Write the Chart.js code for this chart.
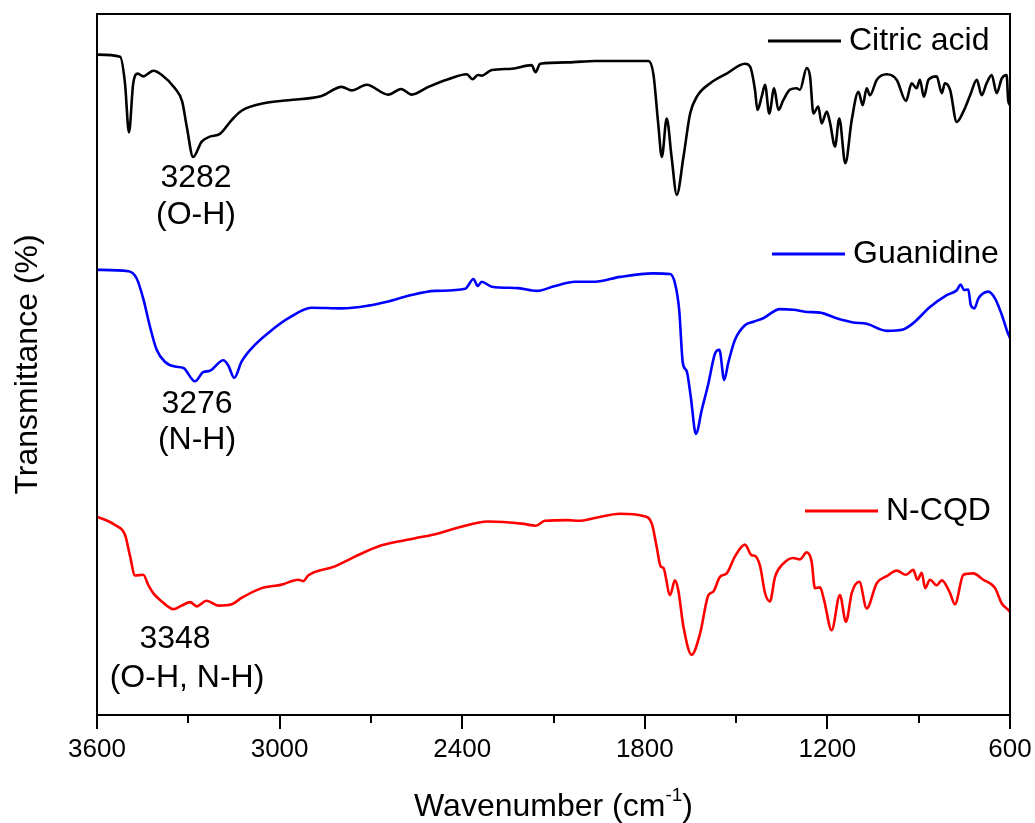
<!DOCTYPE html>
<html>
<head>
<meta charset="utf-8">
<script src="https://cdn.jsdelivr.net/npm/chart.js@4"></script>
<style>
  html, body { margin: 0; padding: 0; background: #fff; }
  #wrap { width: 1035px; height: 823px; }
</style>
</head>
<body>
<div id="wrap"><canvas id="ftirChart" width="1035" height="823"></canvas></div>
<script>
// --- FTIR spectra (wavenumber cm-1, transmittance a.u.) ---
const citricWn = [3600,3524,3508,3495,3481,3466,3448,3415,3387,3344,3320,3305,3284,3256,3229,3196,3157,3125,3048,2971,2862,2796,2763,2714,2643,2601,2566,2511,2446,2385,2366,2349,2336,2303,2237,2172,2159,2144,2051,1964,1881,1788,1772,1756,1744,1728,1712,1695,1673,1651,1629,1586,1531,1471,1454,1438,1430,1416,1405,1391,1375,1361,1345,1323,1301,1290,1268,1257,1246,1230,1219,1202,1191,1175,1161,1141,1120,1098,1084,1071,1060,1038,1005,972,942,923,907,896,883,868,841,824,814,797,775,753,731,709,693,677,660,644,627,611,606,600];
const citricT = [94.2,93.9,90.1,83.1,90.1,91.5,91.1,91.9,91.3,89.4,87.5,83.9,79.6,81.8,82.5,82.9,84.9,86.2,87.3,87.7,88.3,89.6,89.1,89.9,88.5,89.3,88.5,89.6,90.7,91.4,90.7,91.3,91.2,92.0,92.2,92.7,91.7,92.9,93.1,93.3,93.3,93.3,91.5,84.4,79.6,85.1,79.6,74.2,79.6,85.8,88.2,90.1,91.5,92.9,92.5,89.2,86.3,88.2,89.9,85.8,89.4,86.3,87.7,89.2,89.4,89.2,92.3,91.1,85.8,86.8,84.4,86.1,84.4,81.1,85.1,78.7,84.9,88.9,87.0,89.4,88.4,90.6,91.4,90.6,87.6,90.1,89.4,90.6,88.2,90.6,91.1,88.7,90.1,89.2,84.6,86.1,88.4,90.6,88.4,90.1,91.3,88.7,90.8,91.3,87.7,87.0];

const guanWn = [3600,3497,3470,3448,3426,3404,3377,3344,3316,3278,3251,3229,3185,3169,3149,3125,3092,3037,2971,2895,2796,2709,2643,2577,2489,2390,2363,2349,2336,2303,2216,2155,2095,2029,1964,1881,1772,1717,1701,1687,1675,1662,1649,1632,1613,1591,1569,1555,1539,1526,1504,1471,1443,1411,1356,1312,1268,1224,1170,1115,1071,1005,951,918,863,808,775,762,751,737,729,717,704,671,649,627,609,600];
const guanT = [63.5,63.3,62.3,59.4,55.4,52.1,50.4,49.7,49.5,47.6,48.9,49.1,50.6,49.9,48.1,50.4,52.3,54.5,56.6,58.1,58.0,58.4,59.0,59.8,60.5,60.8,62.2,61.2,61.8,61.1,60.9,60.5,61.2,61.8,61.8,62.5,63.0,62.9,61.6,57.8,50.2,49.0,45.4,40.1,43.5,47.3,51.6,52.1,47.8,50.2,53.5,55.6,56.1,56.6,57.9,57.8,57.5,57.4,56.6,56.0,55.8,54.8,55.0,55.9,58.2,59.9,60.6,61.4,60.6,60.7,58.5,58.0,59.4,60.4,59.4,57.1,54.7,53.8];

const ncqdWn = [3600,3541,3508,3492,3475,3448,3431,3412,3387,3349,3322,3294,3272,3240,3201,3157,3125,3059,2993,2939,2922,2906,2818,2752,2665,2555,2479,2424,2314,2204,2158,2128,2051,2018,1964,1881,1805,1777,1761,1748,1739,1717,1701,1690,1673,1646,1618,1591,1575,1553,1531,1504,1471,1449,1438,1421,1405,1389,1372,1345,1312,1290,1268,1252,1241,1224,1211,1186,1159,1139,1120,1095,1071,1038,1005,972,942,918,904,890,879,863,841,824,797,781,753,721,688,649,627,606,600];
const ncqdT = [28.3,27.1,25.7,22.8,19.9,20.0,18.5,17.2,16.2,15.1,15.6,16.1,15.5,16.3,15.6,15.8,16.7,18.1,18.6,19.3,19.1,19.9,21.2,22.6,24.2,25.2,25.9,26.6,27.6,27.3,27.0,27.7,27.8,27.7,28.1,28.7,28.4,27.3,24.0,21.2,21.0,17.1,19.2,17.8,12.6,8.6,11.7,17.1,17.6,19.7,20.2,22.6,24.3,22.8,22.7,21.2,17.4,16.2,19.7,21.6,22.4,22.2,23.2,21.9,18.1,18.2,16.4,12.1,17.1,13.3,17.4,19.0,15.2,18.8,19.8,20.6,20.0,20.7,19.3,20.3,18.1,19.3,18.5,19.2,17.4,15.8,20.0,20.2,19.3,18.1,15.9,15.0,14.7];

const seriesNames = ['Citric acid', 'Guanidine', 'N-CQD'];
const seriesColors = ['#000000', '#0000ff', '#ff0000'];
const xTickLabels = [3600, 3000, 2400, 1800, 1200, 600];

const FONT = '"Liberation Sans", Arial, sans-serif';

function toPoints(wn, t) {
    const n = Math.min(wn.length, t.length);
    const pts = [];
    for (let i = 0; i < n; i++) pts.push({ x: wn[i], y: t[i] });
    return pts;
}

// legend entries + peak notes, placed like the original figure
const notes = [
    { text: '3282', x: 196, y: 178 },
    { text: '(O-H)', x: 196, y: 215 },
    { text: '3276', x: 197, y: 404 },
    { text: '(N-H)', x: 197, y: 440 },
    { text: '3348', x: 175, y: 639 },
    { text: '(O-H, N-H)', x: 187, y: 678 }
];
const legendSpots = [
    { x0: 768, x1: 841, y: 41 },
    { x0: 772, x1: 845, y: 254 },
    { x0: 805, x1: 878, y: 511 }
];

const framePlugin = {
    id: 'frame',
    afterDraw(chart) {
        const { ctx, chartArea: a, scales } = chart;
        ctx.save();
        // box
        ctx.strokeStyle = '#000';
        ctx.lineWidth = 2;
        ctx.strokeRect(a.left, a.top, a.right - a.left, a.bottom - a.top);

        // x ticks (major every 600, minor every 300), pointing out
        const xs = scales.x;
        for (let v = 600; v <= 3600; v += 300) {
            const px = Math.round(xs.getPixelForValue(v));
            const len = (v % 600 === 0) ? 14 : 8;
            ctx.beginPath();
            ctx.moveTo(px, a.bottom);
            ctx.lineTo(px, a.bottom + len);
            ctx.stroke();
        }

        // x title with superscript
        ctx.fillStyle = '#000';
        ctx.textBaseline = 'alphabetic';
        const main = 'Wavenumber (cm';
        const sup = '-1';
        const close = ')';
        ctx.font = '32px ' + FONT;
        const w1 = ctx.measureText(main).width;
        const w3 = ctx.measureText(close).width;
        ctx.font = '19px ' + FONT;
        const w2 = ctx.measureText(sup).width;
        const cx = (a.left + a.right) / 2;
        let x = cx - (w1 + w2 + w3) / 2;
        const base = 816;
        ctx.font = '32px ' + FONT;
        ctx.fillText(main, x, base);
        ctx.font = '19px ' + FONT;
        ctx.fillText(sup, x + w1, base - 15);
        ctx.font = '32px ' + FONT;
        ctx.fillText(close, x + w1 + w2, base);

        // legends
        ctx.textBaseline = 'middle';
        ctx.textAlign = 'left';
        legendSpots.forEach((s, i) => {
            ctx.strokeStyle = seriesColors[i];
            ctx.lineWidth = 3;
            ctx.beginPath();
            ctx.moveTo(s.x0, s.y);
            ctx.lineTo(s.x1, s.y);
            ctx.stroke();
            ctx.fillStyle = '#000';
            ctx.font = '32px ' + FONT;
            ctx.fillText(seriesNames[i], s.x1 + 8, s.y);
        });

        // peak notes
        ctx.textAlign = 'center';
        ctx.font = '32px ' + FONT;
        notes.forEach(n => ctx.fillText(n.text, n.x, n.y));
        ctx.restore();
    }
};

const ctxFtir = document.getElementById('ftirChart').getContext('2d');
const ftirChart = new Chart(ctxFtir, {
    type: 'line',
    data: {
        datasets: [
            { label: seriesNames[0], data: toPoints(citricWn, citricT) },
            { label: seriesNames[1], data: toPoints(guanWn, guanT) },
            { label: seriesNames[2], data: toPoints(ncqdWn, ncqdT) }
        ].map((d, i) => Object.assign(d, {
            borderColor: seriesColors[i],
            borderWidth: 2.6,
            pointRadius: 0,
            cubicInterpolationMode: 'monotone',
            fill: false
        }))
    },
    options: {
        responsive: false,
        animation: false,
        parsing: false,
        layout: { padding: { top: 14, right: 25, left: 0, bottom: 0 } },
        plugins: {
            legend: { display: false },
            tooltip: { enabled: false }
        },
        scales: {
            x: {
                type: 'linear',
                reverse: true,
                min: 600,
                max: 3600,
                afterFit: s => { s.height = 108; s.paddingLeft = 0; s.paddingRight = 0; },
                afterBuildTicks: s => { s.ticks = xTickLabels.map(v => ({ value: v })); },
                grid: { display: false, drawTicks: false },
                border: { display: false },
                ticks: {
                    padding: 19,
                    color: '#000',
                    font: { size: 26, family: FONT },
                    maxRotation: 0,
                    autoSkip: false,
                    callback: v => String(v)
                }
            },
            y: {
                min: 0,
                max: 100,
                afterFit: s => { s.width = 97; },
                grid: { display: false, drawTicks: false },
                border: { display: false },
                ticks: { display: false },
                title: {
                    display: true,
                    text: 'Transmittance (%)',
                    color: '#000',
                    font: { size: 32, family: FONT },
                    padding: { top: 9, bottom: 0 }
                }
            }
        }
    },
    plugins: [framePlugin]
});
</script>
</body>
</html>
